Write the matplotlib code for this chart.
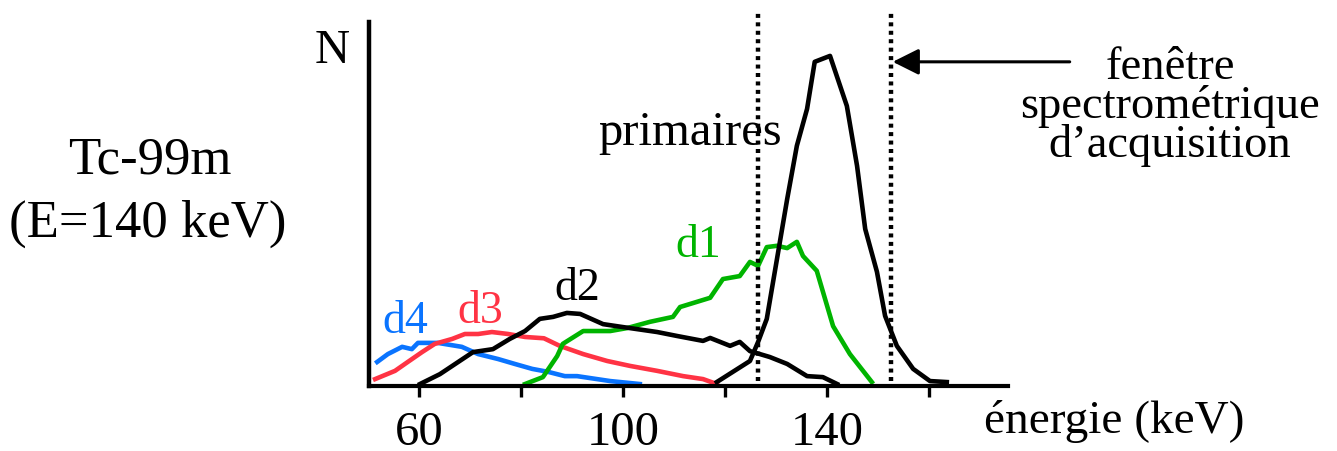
import numpy as np
import matplotlib
matplotlib.use("Agg")
import matplotlib.pyplot as plt

# energies in keV, counts in arbitrary units (peak ~ 100)
prim_e = [118.4, 124.9, 126.5, 128.2, 130.2, 132.2, 134.1, 136.1, 137.6, 140.6,
          143.9, 145.9, 147.5, 149.8, 151.4, 153.7, 156.9, 160.2, 163.5]
prim_n = [1.2, 7.6, 13.4, 20.4, 38.6, 56.8, 73.0, 84.2, 98.5, 100.3,
          85.1, 66.9, 47.7, 34.7, 21.3, 12.2, 5.2, 1.5, 1.2]

d1_e = [80.8, 84.3, 87.1, 88.2, 92.2, 97.5, 100.8, 105.3, 109.8, 111.2, 117.1,
        119.6, 122.9, 124.9, 126.5, 128.2, 130.2, 132.2, 134.1, 135.3, 138.0,
        141.2, 144.5, 148.8]
d1_n = [0.6, 2.7, 9.1, 12.8, 16.7, 16.7, 17.6, 19.5, 21.0, 24.0, 26.8,
        32.5, 33.4, 37.7, 36.5, 42.2, 42.6, 41.9, 43.8, 39.5, 35.0,
        18.2, 9.7, 1.2]

d2_e = [60.2, 64.1, 70.6, 74.5, 77.8, 80.8, 83.7, 86.3, 89.0, 91.6, 96.1, 100.0,
        106.7, 110.6, 115.7, 117.1, 121.0, 122.9, 124.9, 128.8, 132.2, 136.1,
        139.2, 142.0]
d2_n = [0.6, 3.6, 10.3, 11.2, 14.3, 16.7, 20.4, 21.0, 22.2, 21.9, 18.8, 17.9,
        16.4, 15.2, 13.7, 14.6, 12.2, 13.4, 10.6, 8.8, 6.7, 3.0,
        2.7, 0.6]

d3_e = [51.4, 55.3, 57.8, 60.6, 63.1, 66.5, 69.0, 71.6, 74.3, 77.5, 80.8, 84.5,
        87.6, 92.2, 96.9, 101.4, 106.7, 111.8, 115.7, 118.4]
d3_n = [2.1, 4.6, 7.3, 10.3, 12.8, 14.3, 15.8, 15.8, 16.4, 15.8, 14.9, 14.5,
        12.2, 9.7, 7.6, 6.1, 4.6, 3.0, 2.1, 0.6]

d4_e = [51.8, 53.9, 56.7, 58.6, 59.8, 63.7, 68.4, 71.6, 75.5, 78.8, 82.2, 85.3,
        88.6, 91.0, 97.5, 103.3]
d4_n = [7.3, 9.7, 11.9, 11.2, 13.1, 13.1, 11.9, 9.7, 8.2, 6.7, 5.2, 4.3,
        3.0, 3.0, 1.5, 0.6]

window = [126.5, 152.6]
tick_pos = [60, 80, 100, 120, 140, 160]
tick_lab = ["60", "", "100", "", "140", ""]

plt.rcParams["font.family"] = "Liberation Serif"

W, H = 1337, 452
fig = plt.figure(figsize=(W / 100, H / 100), dpi=100)
ax = fig.add_axes([369 / W, 65 / H, (1008 - 369) / W, (387 - 23) / H])
ax.set_xlim(50.2, 175.5)
ax.set_ylim(0, 110.6)

for s in ["top", "right"]:
    ax.spines[s].set_visible(False)
ax.spines["left"].set_linewidth(3.2)
ax.spines["bottom"].set_linewidth(3)
ax.set_yticks([])
ax.set_xticks(tick_pos)
ax.set_xticklabels(tick_lab)
ax.tick_params(axis="x", direction="out", length=8, width=2.4, pad=9,
               labelsize=35)

lw = 3.3
ax.plot(d4_e, d4_n, color="#0a74ff", lw=lw)
ax.plot(d3_e, d3_n, color="#ff3344", lw=lw)
ax.plot(d1_e, d1_n, color="#00b400", lw=lw)
ax.plot(d2_e, d2_n, color="black", lw=lw)
ax.plot(prim_e, prim_n, color="black", lw=lw)

# energy window (dotted)
ax.vlines(window, 1.5, 113.7, colors="black", lw=3.2, linestyles=(0, (0.9, 1.0)),
          clip_on=False)


def px(x, y):
    return (x / W, 1 - y / H)


fig.text(*px(405, 333), "d4", color="#0a74ff", fontsize=33, ha="center", va="baseline")
fig.text(*px(480, 323), "d3", color="#ff3344", fontsize=33, ha="center", va="baseline")
fig.text(*px(577, 300), "d2", color="black", fontsize=33, ha="center", va="baseline")
fig.text(*px(698, 257), "d1", color="#00b400", fontsize=33, ha="center", va="baseline")
fig.text(*px(690, 145), "primaires", fontsize=35, ha="center", va="baseline")
fig.text(*px(332, 63), "N", fontsize=35, ha="center", va="baseline")
fig.text(*px(150, 174), "Tc-99m", fontsize=38, ha="center", va="baseline")
fig.text(*px(148, 237), "(E=140 keV)", fontsize=38, ha="center", va="baseline")
fig.text(*px(1170, 157), "fenêtre\nspectrométrique\nd\u2019acquisition",
         fontsize=33.5, ha="center", va="baseline", multialignment="center",
         linespacing=0.88)
fig.text(*px(1114, 433), "énergie (keV)", fontsize=34, ha="center", va="baseline")

ax.annotate("", xy=(152.9, 98.5), xytext=(187.6, 98.5),
            arrowprops=dict(arrowstyle="-|>,head_length=0.8,head_width=0.4",
                            lw=2.2, color="black", mutation_scale=20,
                            shrinkA=0, shrinkB=0),
            annotation_clip=False)

fig.savefig("out.png", dpi=100)
